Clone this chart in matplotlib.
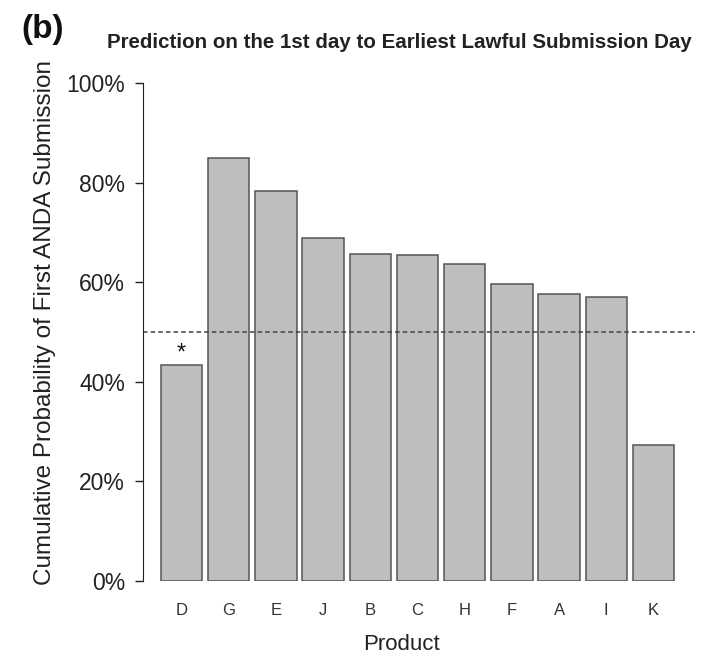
import matplotlib
matplotlib.use("Agg")
import matplotlib.pyplot as plt
from matplotlib.ticker import FuncFormatter

plt.rcParams['font.family'] = ['Liberation Sans', 'DejaVu Sans']

# products sorted as in the figure, cumulative probability (fraction)
products = ["D", "G", "E", "J", "B", "C", "H", "F", "A", "I", "K"]
probability = [0.434, 0.849, 0.783, 0.688, 0.657, 0.655, 0.636, 0.597, 0.577, 0.570, 0.273]
threshold = 0.5
starred = ["D"]  # bars marked with an asterisk

fig = plt.figure(figsize=(7.09, 6.56), dpi=100)
ax = fig.add_axes([0.2017, 0.1143, 0.7786, 0.7592])

xs = list(range(len(products)))
ax.bar(xs, probability, width=0.88, color="#bebebe", edgecolor="#555555", linewidth=1.1)
ax.axhline(threshold, color="#444444", linestyle=(0, (3, 2)), linewidth=1.1)

for name in starred:
    i = products.index(name)
    ax.text(i, probability[i] + 0.001, "*", ha="center", va="bottom", fontsize=17, color="#111111")

ax.set_xlim(-0.816, len(products) - 1 + 0.88)
ax.set_ylim(0, 1.0)
ax.set_yticks([0, 0.2, 0.4, 0.6, 0.8, 1.0])
ax.yaxis.set_major_formatter(FuncFormatter(lambda v, p: f"{int(round(v * 100))}%"))
ax.set_xticks(xs)
ax.set_xticklabels(products, fontsize=12, color="#333333")
ax.tick_params(axis="x", length=0, pad=16)
ax.tick_params(axis="y", length=6, width=1, pad=7, labelsize=16.5, colors="#222222")

for s in ["top", "right", "bottom"]:
    ax.spines[s].set_visible(False)
ax.spines["left"].set_bounds(0, 1.0)
ax.spines["left"].set_color("#222222")

ax.set_ylabel("Cumulative Probability of First ANDA Submission", fontsize=17.5, color="#222222")
ax.yaxis.set_label_coords(-0.158, 0.52)
fig.text(0.566, 0.009, "Product", ha="center", va="baseline", fontsize=16, color="#222222")

fig.text(0.5635, 0.935, "Prediction on the 1st day to Earliest Lawful Submission Day",
         ha="center", va="center", fontsize=14.8, fontweight="bold", color="#222222")
fig.text(0.03, 0.955, "(b)", ha="left", va="center", fontsize=24, fontweight="bold", color="#111111")

fig.savefig("out.png", dpi=100)
